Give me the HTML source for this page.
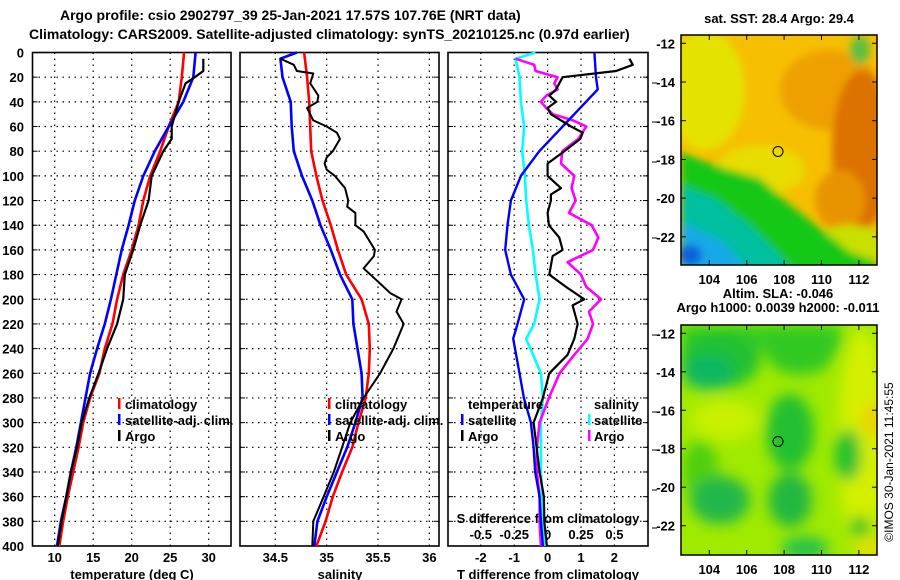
<!DOCTYPE html>
<html><head><meta charset="utf-8">
<style>
html,body{margin:0;padding:0;background:#fff;}
svg{display:block;font-family:"Liberation Sans",Arial,sans-serif;}
.b{font-weight:bold;font-size:13px;}
.t{font-weight:bold;font-size:14px;}
</style></head>
<body>
<svg id="fig" width="900" height="580" viewBox="0 0 900 580">
<defs>
<filter id="blur1" x="-20%" y="-20%" width="140%" height="140%"><feGaussianBlur stdDeviation="4"/></filter>
<filter id="blur2" x="-20%" y="-20%" width="140%" height="140%"><feGaussianBlur stdDeviation="7"/></filter>
<clipPath id="m1c"><rect x="681" y="35" width="196" height="230"/></clipPath>
<clipPath id="m2c"><rect x="681" y="325" width="196" height="230"/></clipPath>
</defs>
<text class="t" x="60" y="20">Argo profile: csio 2902797_39 25-Jan-2021 17.57S 107.76E (NRT data)</text>
<text class="t" x="29" y="39">Climatology: CARS2009. Satellite-adjusted climatology: synTS_20210125.nc (0.97d earlier)</text>

<!-- SST map -->
<g>
<g clip-path="url(#m1c)">
<rect x="681" y="35" width="196" height="230" fill="#f6bf00"/>
<g filter="url(#blur1)">
<ellipse cx="705" cy="90" rx="40" ry="60" fill="#e4e200"/>
<ellipse cx="760" cy="170" rx="45" ry="25" fill="#e8dc00"/>
<ellipse cx="830" cy="90" rx="50" ry="40" fill="#eea000"/>
<ellipse cx="862" cy="150" rx="30" ry="80" fill="#dc7200"/>
<ellipse cx="840" cy="200" rx="25" ry="30" fill="#e89400"/>
<ellipse cx="850" cy="245" rx="35" ry="20" fill="#c8e000"/>
<polygon points="681,152 700,160 730,170 760,178 790,205 820,228 850,252 877,262 877,280 681,280" fill="#12c812"/>
<polygon points="681,185 715,198 750,225 780,255 800,280 681,280" fill="#00c0a0"/>
<polygon points="681,222 720,240 745,265 681,280" fill="#18a8e8"/>
<ellipse cx="690" cy="255" rx="12" ry="10" fill="#1060d8"/>
<ellipse cx="860" cy="50" rx="10" ry="14" fill="#60c040"/>
</g>
</g>
<rect x="681" y="35" width="196" height="230" fill="none" stroke="#000" stroke-width="1.5"/>
<circle cx="778" cy="151.5" r="5" fill="none" stroke="#000" stroke-width="1"/>
</g>
<text class="b" x="779" y="23" text-anchor="middle">sat. SST: 28.4 Argo: 29.4</text>
<text class="b" x="778" y="298" text-anchor="middle">Altim. SLA: -0.046</text>
<text class="b" x="778" y="312" text-anchor="middle">Argo h1000: 0.0039 h2000: -0.011</text>

<!-- SLA map -->
<g>
<g clip-path="url(#m2c)">
<rect x="681" y="325" width="196" height="230" fill="#a0ea00"/>
<g filter="url(#blur2)">
<rect x="681" y="325" width="160" height="25" fill="#30cc20"/>
<ellipse cx="720" cy="360" rx="40" ry="28" fill="#20c030"/>
<ellipse cx="708" cy="372" rx="26" ry="18" fill="#10b860"/>
<ellipse cx="800" cy="350" rx="35" ry="25" fill="#30c820"/>
<ellipse cx="725" cy="420" rx="35" ry="20" fill="#c8f000"/>
<ellipse cx="790" cy="432" rx="24" ry="38" fill="#20c030"/>
<ellipse cx="862" cy="440" rx="24" ry="110" fill="#d4f000"/>
<ellipse cx="872" cy="420" rx="10" ry="18" fill="#f0d000"/>
<ellipse cx="848" cy="455" rx="13" ry="26" fill="#20c030"/>
<ellipse cx="700" cy="470" rx="18" ry="30" fill="#50d010"/>
<ellipse cx="720" cy="500" rx="30" ry="24" fill="#20b848"/>
<ellipse cx="790" cy="500" rx="22" ry="27" fill="#20b840"/>
<ellipse cx="860" cy="527" rx="10" ry="11" fill="#10c020"/>
<ellipse cx="805" cy="548" rx="24" ry="11" fill="#20c050"/>
<ellipse cx="870" cy="550" rx="14" ry="10" fill="#e8e000"/>
</g>
</g>
<rect x="681" y="325" width="196" height="230" fill="none" stroke="#000" stroke-width="1.5"/>
<circle cx="778" cy="441.5" r="5" fill="none" stroke="#000" stroke-width="1"/>
</g>
<text x="893" y="462" font-size="12" text-anchor="middle" transform="rotate(-90 893 462)">©IMOS 30-Jan-2021 11:45:55</text>

<g id="axes"></g>
<g id="series"></g>
<g id="legends">
<g>
<rect x="118" y="398" width="2.5" height="11" fill="#f00"/><text class="b" x="125" y="409">climatology</text>
<rect x="118" y="414" width="2.5" height="11" fill="#00f"/><text class="b" x="125" y="425">satellite-adj. clim.</text>
<rect x="118" y="430" width="2.5" height="11" fill="#000"/><text class="b" x="125" y="441">Argo</text>
</g>
<g>
<rect x="328" y="398" width="2.5" height="11" fill="#f00"/><text class="b" x="335" y="409">climatology</text>
<rect x="328" y="414" width="2.5" height="11" fill="#00f"/><text class="b" x="335" y="425">satellite-adj. clim.</text>
<rect x="328" y="430" width="2.5" height="11" fill="#000"/><text class="b" x="335" y="441">Argo</text>
</g>
<g>
<text class="b" x="468" y="409">temperature</text>
<rect x="461" y="414" width="2.5" height="11" fill="#00f"/><text class="b" x="468" y="425">satellite</text>
<rect x="461" y="430" width="2.5" height="11" fill="#000"/><text class="b" x="468" y="441">Argo</text>
<text class="b" x="594" y="409">salinity</text>
<rect x="588" y="414" width="2.5" height="11" fill="#0ff"/><text class="b" x="594" y="425">satellite</text>
<rect x="588" y="430" width="2.5" height="11" fill="#f0f"/><text class="b" x="594" y="441">Argo</text>
</g>
</g>
</svg>
<script>
// ---- data ----
const depthTicks = [0,20,40,60,80,100,120,140,160,180,200,220,240,260,280,300,320,340,360,380,400];
const tTicks = [10,15,20,25,30];
const sTicks = [34.5,35,35.5,36];
const dTTicks = [-2,-1,0,1,2];
const dSTicks = [-0.5,-0.25,0,0.25,0.5];
const dSTickLabels = ["-0.5","-0.25","0","0.25","0.5"];
const latTicks = [-12,-14,-16,-18,-20,-22];
const lonTicks = [104,106,108,110,112];

const stdDepth = [0,20,40,60,80,100,120,140,160,180,200,220,240,260,280,300,320,340,360,380,400];
const tempClim = [26.8,26.5,26.1,24.8,23.7,22.4,21.5,20.9,20.0,18.9,18.1,17.5,16.5,15.8,14.6,13.7,13.1,12.4,11.7,11.1,10.6];
const tempSat  = [28.3,28.0,26.7,24.8,23.0,21.5,20.4,19.6,18.7,18.0,17.3,16.5,15.5,14.6,14.0,13.4,12.8,12.1,11.5,10.8,10.3];
const tempArgoDepth = [5,15,20,25,40,60,70,80,100,120,140,160,180,200,220,240,260,280,300,320,340,360,380,400];
const tempArgo = [29.3,29.3,28.2,27.0,26.1,25.2,25.2,24.1,22.6,22.2,21.1,20.2,19.1,18.9,18.1,16.8,15.7,14.5,13.5,12.9,12.1,11.5,10.9,10.4];

const salClim = [34.78,34.81,34.83,34.84,34.85,34.90,34.96,35.04,35.11,35.19,35.34,35.41,35.42,35.41,35.38,35.31,35.25,35.15,35.06,34.99,34.90];
const salSatDepth = [0,5,20,40,60,80,100,120,140,160,180,200,220,240,260,280,300,320,340,360,380,400];
const salSat = [34.71,34.55,34.57,34.65,34.66,34.68,34.76,34.86,34.94,35.04,35.13,35.25,35.26,35.30,35.34,35.35,35.28,35.20,35.10,35.00,34.91,34.88];
const salArgoDepth = [5,10,15,17,25,35,40,45,50,55,60,65,70,80,85,90,95,100,110,120,125,130,140,145,160,165,175,185,195,200,210,220,240,260,280,300,320,340,360,380,400];
const salArgo = [34.55,34.68,34.71,34.87,34.84,34.92,34.91,34.81,34.84,34.87,35.0,35.10,35.13,35.06,35.0,34.98,35.0,35.08,35.18,35.21,35.20,35.28,35.28,35.36,35.47,35.46,35.36,35.49,35.62,35.73,35.68,35.75,35.65,35.52,35.36,35.23,35.15,35.07,34.97,34.87,34.86];

const dTSatDepth = [0,20,30,40,60,80,100,120,140,160,180,200,220,232,260,280,300,320,340,360,380,400];
const dTSat = [1.4,1.45,1.5,1.15,0.45,-0.25,-0.8,-1.1,-1.2,-1.27,-1.1,-0.7,-0.9,-1.03,-0.84,-0.71,-0.5,-0.42,-0.37,-0.24,-0.2,-0.14];
const dTArgoDepth = [5,10,15,20,30,35,40,45,50,60,65,70,80,90,100,110,115,120,130,140,150,160,165,180,190,200,205,220,232,245,260,280,300,320,340,360,380,400];
const dTArgo = [2.45,2.55,2.05,0.45,0.25,0.05,0.25,0,0.1,0.7,1.05,0.98,0.5,0,0,0.4,0.1,0.1,0,0.04,0.35,0.45,0.15,0.05,0.55,1.1,0.75,0.9,0.8,0.6,0.05,-0.14,-0.42,-0.33,-0.24,-0.11,-0.1,-0.02];
const dSSatDepth = [0,5,20,40,60,80,100,120,140,160,180,200,220,232,260,280,300,320,340,360,380,400];
const dSSat = [-0.09,-0.24,-0.21,-0.2,-0.175,-0.19,-0.17,-0.16,-0.14,-0.11,-0.09,-0.06,-0.1,-0.16,-0.05,-0.035,-0.05,-0.05,-0.05,-0.04,-0.035,-0.02];
const dSArgoDepth = [5,10,15,20,25,30,35,40,45,50,55,60,70,80,90,100,110,120,130,140,150,160,170,180,190,200,210,220,232,245,260,280,300,320,340,360,380,400];
const dSArgo = [-0.24,-0.1,-0.09,0.075,0.05,0.075,-0.01,-0.05,-0.01,0.04,0.19,0.29,0.23,0.11,0.1,0.2,0.18,0.21,0.16,0.33,0.38,0.34,0.15,0.25,0.29,0.4,0.31,0.34,0.3,0.2,0.09,0.01,-0.06,-0.08,-0.08,-0.06,-0.06,-0.05];

// ---- axes ----
const NS = "http://www.w3.org/2000/svg";
const Y0 = 52.5, Y1 = 546;
const yD = d => Y0 + (d/400)*(Y1-Y0);
const xT = t => 54.7 + (t-10)*7.7;
const xS = s => 275.3 + (s-34.5)*102.7;
const xDT = v => 547.6 + v*33.4;
const xDS = v => 547.6 + v*4*33.4;
const yLat1 = l => 43.3 + (-12-l)*19.35;
const yLat2 = l => 333.3 + (-12-l)*19.24;
const xLon = l => 709.3 + (l-104)*18.7;
const panels = [{x0:32.5,x1:231,name:'temperature'},{x0:240,x1:439,name:'salinity'},{x0:448,x1:648,name:'difference'}];

function mk(tag, attrs, parent){const e=document.createElementNS(NS,tag);for(const k in attrs)e.setAttribute(k,attrs[k]);parent.appendChild(e);return e;}
const axes = document.getElementById('axes');
const series = document.getElementById('series');

panels.forEach((p,i)=>{
  const g = mk('g',{},axes);
  
  
  depthTicks.forEach(d=>{
    if(d===0||d===400) return;
    const l = mk('line',{x1:p.x0,x2:p.x1,y1:yD(d),y2:yD(d),stroke:'#000','stroke-width':1.2,'stroke-dasharray':'1.5 4.5'},g);
    
    
    mk('line',{x1:p.x0,x2:p.x0+5,y1:yD(d),y2:yD(d),stroke:'#000','stroke-width':1},g);
    mk('line',{x1:p.x1-5,x2:p.x1,y1:yD(d),y2:yD(d),stroke:'#000','stroke-width':1},g);
  });
  let ticks, fx;
  if(i===0){ticks=tTicks;fx=xT;} else if(i===1){ticks=sTicks;fx=xS;} else {ticks=dTTicks;fx=xDT;}
  ticks.forEach(v=>{
    const l = mk('line',{x1:fx(v),x2:fx(v),y1:Y0,y2:Y1,stroke:'#000','stroke-width':1.2,'stroke-dasharray':'1.5 4.5'},g);
    
    
    const t = mk('text',{x:fx(v),y:562,'text-anchor':'middle',class:'b'},g);
    t.textContent = String(v);
    
    
  });
  const r = mk('rect',{x:p.x0,y:Y0,width:p.x1-p.x0,height:Y1-Y0,fill:'none',stroke:'#000','stroke-width':1.6},g);
  
  
});
depthTicks.forEach(d=>{
  const t = mk('text',{x:24,y:yD(d)+5,'text-anchor':'end',class:'b'},axes);
  t.textContent = String(d);
  
  
});
[['temperature (deg C)',132],['salinity',340],['T difference from climatology',548]].forEach(a=>{
  const t = mk('text',{x:a[1],y:579,'text-anchor':'middle',class:'b'},axes);
  t.textContent = a[0];
  
  
});
const st = mk('text',{x:548,y:523,'text-anchor':'middle',class:'b'},axes);
st.textContent = 'S difference from climatology';


dSTicks.forEach((v,k)=>{
  const t = mk('text',{x:xDS(v),y:539,'text-anchor':'middle',class:'b'},axes);
  t.textContent = dSTickLabels[k];
  
  
});
[83,122,162,238,335,412,450,490,528].forEach(y=>mk('line',{x1:652,x2:657,y1:y,y2:y,stroke:'#000','stroke-width':1},axes));

// map ticks
[[yLat1,35,265],[yLat2,325,555]].forEach((m,mi)=>{
  latTicks.forEach(l=>{
    const y=m[0](l);
    mk('line',{x1:681,x2:686,y1:y,y2:y,stroke:'#000'},axes);
    mk('line',{x1:872,x2:877,y1:y,y2:y,stroke:'#000'},axes);
    const t = mk('text',{x:675,y:y+5,'text-anchor':'end',class:'b'},axes);
    t.textContent = String(l);
    
    
  });
  lonTicks.forEach(l=>{
    const x=xLon(l);
    mk('line',{x1:x,x2:x,y1:m[1],y2:m[1]+5,stroke:'#000'},axes);
    mk('line',{x1:x,x2:x,y1:m[2]-5,y2:m[2],stroke:'#000'},axes);
    const t = mk('text',{x:x,y:m[2]+19,'text-anchor':'middle',class:'b'},axes);
    t.textContent = String(l);
    
    
  });
});

// ---- series ----
function line(depths, vals, fx, color, w, name){
  const pts = depths.map((d,k)=>fx(vals[k]).toFixed(1)+','+yD(d).toFixed(1)).join(' ');
  const pl = mk('polyline',{points:pts,fill:'none',stroke:color,'stroke-width':w,'stroke-linejoin':'round'},series);
  
  
}
line(stdDepth,tempClim,xT,'#f00',2.6,'temperature-climatology-line');
line(stdDepth,tempSat,xT,'#00f',2.6,'temperature-satellite-line');
line(tempArgoDepth,tempArgo,xT,'#000',2.2,'temperature-argo-line');
line(stdDepth,salClim,xS,'#f00',2.6,'salinity-climatology-line');
line(salSatDepth,salSat,xS,'#00f',2.6,'salinity-satellite-line');
line(salArgoDepth,salArgo,xS,'#000',2,'salinity-argo-line');
line(dSSatDepth,dSSat,xDS,'#0ff',2.6,'salinity-diff-satellite-line');
line(dSArgoDepth,dSArgo,xDS,'#f0f',2.6,'salinity-diff-argo-line');
line(dTSatDepth,dTSat,xDT,'#00f',2.4,'temperature-diff-satellite-line');
line(dTArgoDepth,dTArgo,xDT,'#000',2.2,'temperature-diff-argo-line');
</script>
</body></html>
